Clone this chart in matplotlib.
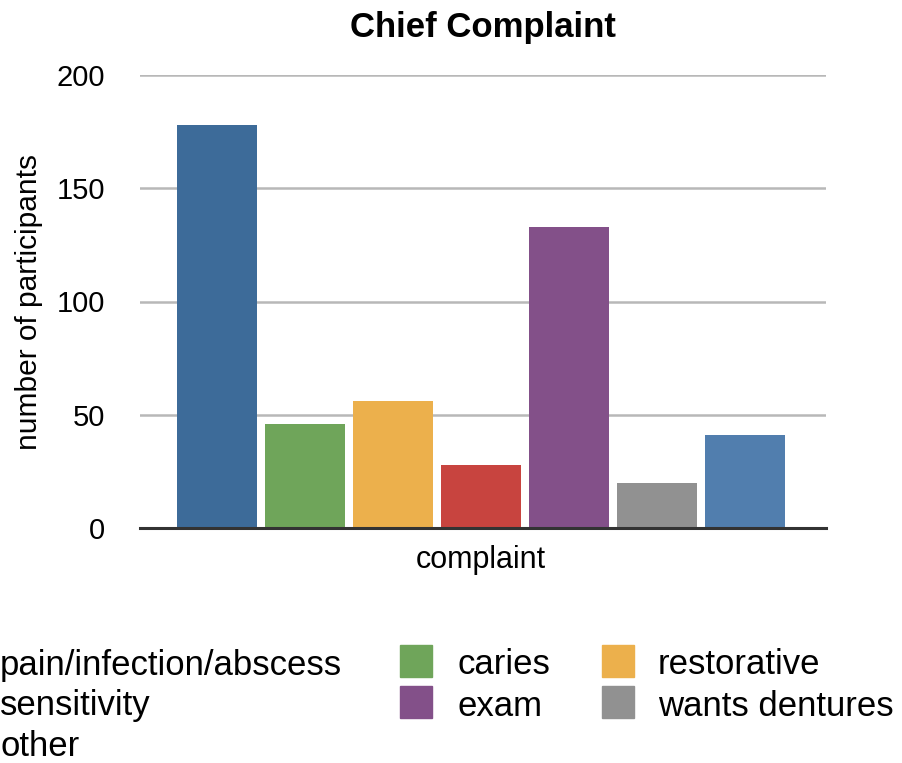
import matplotlib
matplotlib.use("Agg")
import matplotlib.pyplot as plt
from matplotlib.patches import Rectangle

plt.rcParams['font.family'] = ['Liberation Sans', 'DejaVu Sans']

# bar order as drawn left to right
complaints = ['pain/infection/abscess', 'caries', 'restorative', 'sensitivity',
              'exam', 'wants dentures', 'other']
participants = [178, 46, 56, 28, 133, 20, 41]
bar_colors = ['#3D6B99', '#6FA55A', '#ECB04C', '#C8443F', '#835089', '#919191', '#517EAE']
y_ticks = [0, 50, 100, 150, 200]

# legend reads row by row, three per row
legend_rows = [['pain/infection/abscess', 'caries', 'restorative'],
               ['sensitivity', 'exam', 'wants dentures'],
               ['other']]

W, H = 903, 763
fig = plt.figure(figsize=(W / 100, H / 100), dpi=100)
ax = fig.add_axes([140 / W, 1 - 528 / H, 686 / W, 453 / H])

x = list(range(len(complaints)))
ax.bar(x, participants, width=80 / 88, color=bar_colors, zorder=3)

ax.set_xlim(-0.875, 6.92)
ax.set_ylim(0, 200)
ax.set_yticks(y_ticks)
ax.set_yticklabels([str(v) for v in y_ticks], fontsize=21)
ax.tick_params(axis='y', length=0, pad=25)
ax.set_xticks([3])
ax.set_xticklabels(['complaint'], fontsize=22)
ax.tick_params(axis='x', length=0, pad=12)

ax.grid(axis='y', color='#B8B8B8', linewidth=1.8, zorder=0)
for s in ['top', 'right', 'left']:
    ax.spines[s].set_visible(False)
ax.spines['bottom'].set_color('#333333')
ax.spines['bottom'].set_linewidth(2.2)
ax.spines['bottom'].set_zorder(4)

ax.set_title('Chief Complaint', fontsize=25, fontweight='bold', pad=27)
ax.set_ylabel('number of participants', fontsize=21.5)
ax.yaxis.set_label_coords(-0.1414, 0.5)

# legend drawn by hand in pixel positions (left column swatches fall off the canvas)
col_swatch_x = [-58, 400, 602]
text_gap = [26, 26, 24]
row_y = [661, 702, 742]
sw = 32
color_of = dict(zip(complaints, bar_colors))
for r, row in enumerate(legend_rows):
    for c, name in enumerate(row):
        sx = col_swatch_x[c]
        fig.patches.append(Rectangle((sx / W, 1 - (row_y[r] + sw / 2) / H), sw / W, sw / H,
                                     transform=fig.transFigure, color=color_of[name]))
        fig.text((sx + sw + text_gap[c]) / W, 1 - (row_y[r] + 4) / H, name, fontsize=25,
                 ha='left', va='center')

fig.savefig('out.png', dpi=100)
